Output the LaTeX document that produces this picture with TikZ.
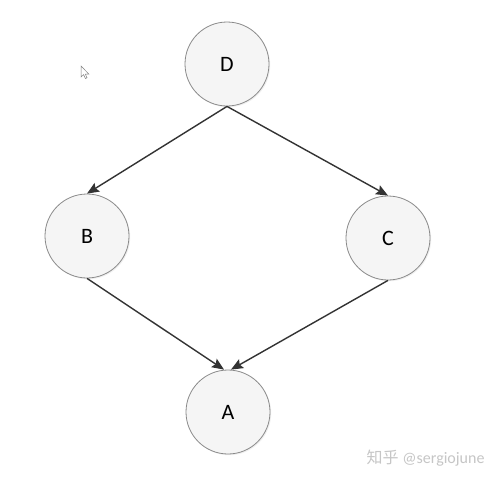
\documentclass[tikz,border=0pt]{standalone}
\usepackage{fontspec}
\setmainfont{Carlito}
\newfontfamily\cjkfont{Noto Sans CJK SC}
\usepackage{xcolor}
\usepackage{tikz}
\usetikzlibrary{arrows.meta,shadows}
\definecolor{edgegray}{HTML}{333333}
\definecolor{rimgray}{HTML}{8A8A8A}
\definecolor{fillgray}{HTML}{F5F5F5}
\tikzset{every var node/.style={circle,draw=rimgray,fill=fillgray,line width=0.8pt,
    minimum size=84pt,inner sep=0pt,font=\fontsize{22}{26}\selectfont,
    drop shadow={opacity=0.12,shadow xshift=1.2pt,shadow yshift=-1.2pt}},
    dep/.style={draw=edgegray,line width=1.4pt,-{Stealth[length=12pt,width=10pt,inset=2pt]}},
    mark text/.style={text=gray!45,font=\fontsize{16}{18}\selectfont}}

\begin{document}
\begin{tikzpicture}[x=1pt,y=-1pt]
    \useasboundingbox[fill=white] (0,0) rectangle (500,482);
    \node[every var node] (D) at (227,64) {D};
    \node[every var node] (B) at (87,236) {B};
    \node[every var node] (C) at (388,238) {C};
    \node[every var node] (A) at (228,412) {A};
    \draw[dep] (D.south) -- (B.north);
    \draw[dep] (D.south) -- (C.north);
    \draw[dep] (B.south) -- ([xshift=-4pt]A.north);
    \draw[dep] (C.south) -- ([xshift=3pt]A.north);
    % pointer
    \draw[gray,fill=white,line width=0.5pt,shift={(81,66)}]
        (0,0) -- (0,11) -- (2.6,8.6) -- (4.4,12.5) -- (6,11.8) -- (4.3,8) -- (7.8,8) -- cycle;
    \node[mark text,anchor=east] (mark) at (488,458) {{\cjkfont 知乎} @sergiojune};
\end{tikzpicture}
\end{document}
